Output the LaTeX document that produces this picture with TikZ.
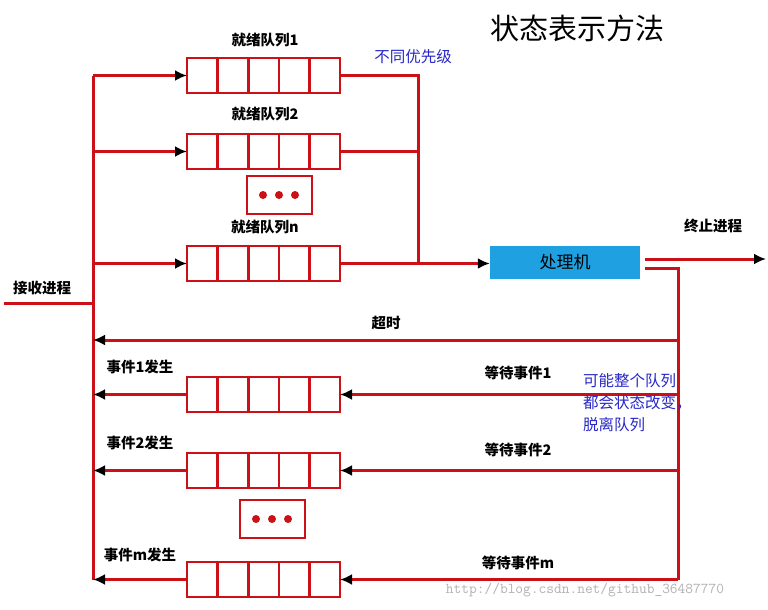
\documentclass[tikz,border=0pt]{standalone}
\usepackage{fontspec}
\newfontfamily\cjk{Noto Sans CJK SC}
\usetikzlibrary{arrows.meta}
\definecolor{qred}{RGB}{204,16,24}
\definecolor{pblue}{RGB}{30,160,225}
\definecolor{tblue}{RGB}{40,40,200}
\begin{document}
\begin{tikzpicture}[x=1pt,y=-1pt,
  ln/.style={qred,line width=3pt},
  ar/.style={qred,line width=3pt,-{Latex[black,length=12pt,width=11pt]}},
  lab/.style={font=\cjk\fontsize{14.5}{16}\selectfont\bfseries,inner sep=0},
  blab/.style={font=\cjk\fontsize{15.5}{22}\selectfont,text=tblue,inner sep=0,align=left}]
\useasboundingbox (0,0) rectangle (768,610);
\fill[white] (0,0) rectangle (768,610);
\newcommand{\queue}[3]{% name, left x, top y
  \draw[qred,line width=2.6pt] (#2,#3) rectangle ++(153,35);
  \foreach \k in {1,...,4}{\draw[qred,line width=2.6pt] (#2+\k*30.6,#3) -- ++(0,35);}
  \coordinate (#1w) at (#2,#3+17.5);
  \coordinate (#1e) at (#2+153,#3+17.5);}
\newcommand{\dotsbox}[3]{%
  \draw[qred,line width=2.6pt] (#2,#3) rectangle ++(65,38);
  \foreach \k in {0,1,2}{\fill[qred] (#2+16+\k*16,#3+19) circle (4pt);}
  \coordinate (#1) at (#2,#3);}
\node[font=\cjk\fontsize{29}{32}\selectfont] (title) at (577,28) {状态表示方法};
% ready queues
\queue{r1}{187}{58}
\queue{r2}{187}{134}
\dotsbox{rd}{247}{176}
\queue{rn}{187}{246}
\node[lab] (l1) at (265,40) {就绪队列1};
\node[lab] (l2) at (265,114) {就绪队列2};
\node[lab] (ln) at (265,227) {就绪队列n};
\node[blab] (prio) at (413,57) {不同优先级};
% left bus
\coordinate (bt) at (93,75.5);
\coordinate (bb) at (93,580);
\draw[ln] (bt) -- (bb);
\draw[ar] (bt) -- (r1w);
\draw[ar] (93,151.5) -- (r2w);
\draw[ar] (93,263.5) -- (rnw);
\node[lab] (recv) at (42,288) {接收进程};
\coordinate (in) at (4,303);
\draw[ln] (in) -- (93,303);
% right merge
\node[fill=pblue,minimum width=150pt,minimum height=33pt,inner sep=0,
  font=\cjk\fontsize{17}{19}\selectfont] (cpu) at (565,262) {处理机};
\draw[ln] (r1e) -- (418,75.5) -- (418,263.5);
\draw[ln] (r2e) -- (418,151.5);
\draw[ar] (rne) -- (cpu.west |- rne);
% output
\coordinate (out) at (766,259);
\draw[ar] (cpu.east |- out) ++(5,0) -- (out);
\node[lab] (term) at (713,226) {终止进程};
% feedback bus
\coordinate (ft) at (678,268);
\coordinate (fb) at (678,580);
\draw[ln] (645,268) -- (ft) -- (fb);
\draw[ar] (678,340) -- (93,340);
\node[lab] (to) at (386,323) {超时};
% wait queues
\queue{w1}{187}{377}
\queue{w2}{187}{453}
\dotsbox{wd}{240}{500}
\queue{wm}{187}{562}
\draw[ar] (678,394.5) -- (w1e);
\draw[ar] (678,470.5) -- (w2e);
\draw[ar] (fb |- wme) -- (wme);
\draw[ar] (w1w) -- (93,394.5);
\draw[ar] (w2w) -- (93,470.5);
\draw[ar] (wmw) -- (93,579.5);
\node[lab] (e1) at (518,373) {等待事件1};
\node[lab] (e2) at (518,450) {等待事件2};
\node[lab] (em) at (518,563) {等待事件m};
\node[lab] (o1) at (140,367) {事件1发生};
\node[lab] (o2) at (140,443) {事件2发生};
\node[lab] (om) at (140,555) {事件m发生};
\node[blab,anchor=north west] (note) at (583,373) {可能整个队列\\都会状态改变，\\脱离队列};
\node[font=\ttfamily\fontsize{15}{17}\selectfont,text=black!30,inner sep=0] (wm) at (585,590) {http://blog.csdn.net/github\_36487770};
\end{tikzpicture}
\end{document}
